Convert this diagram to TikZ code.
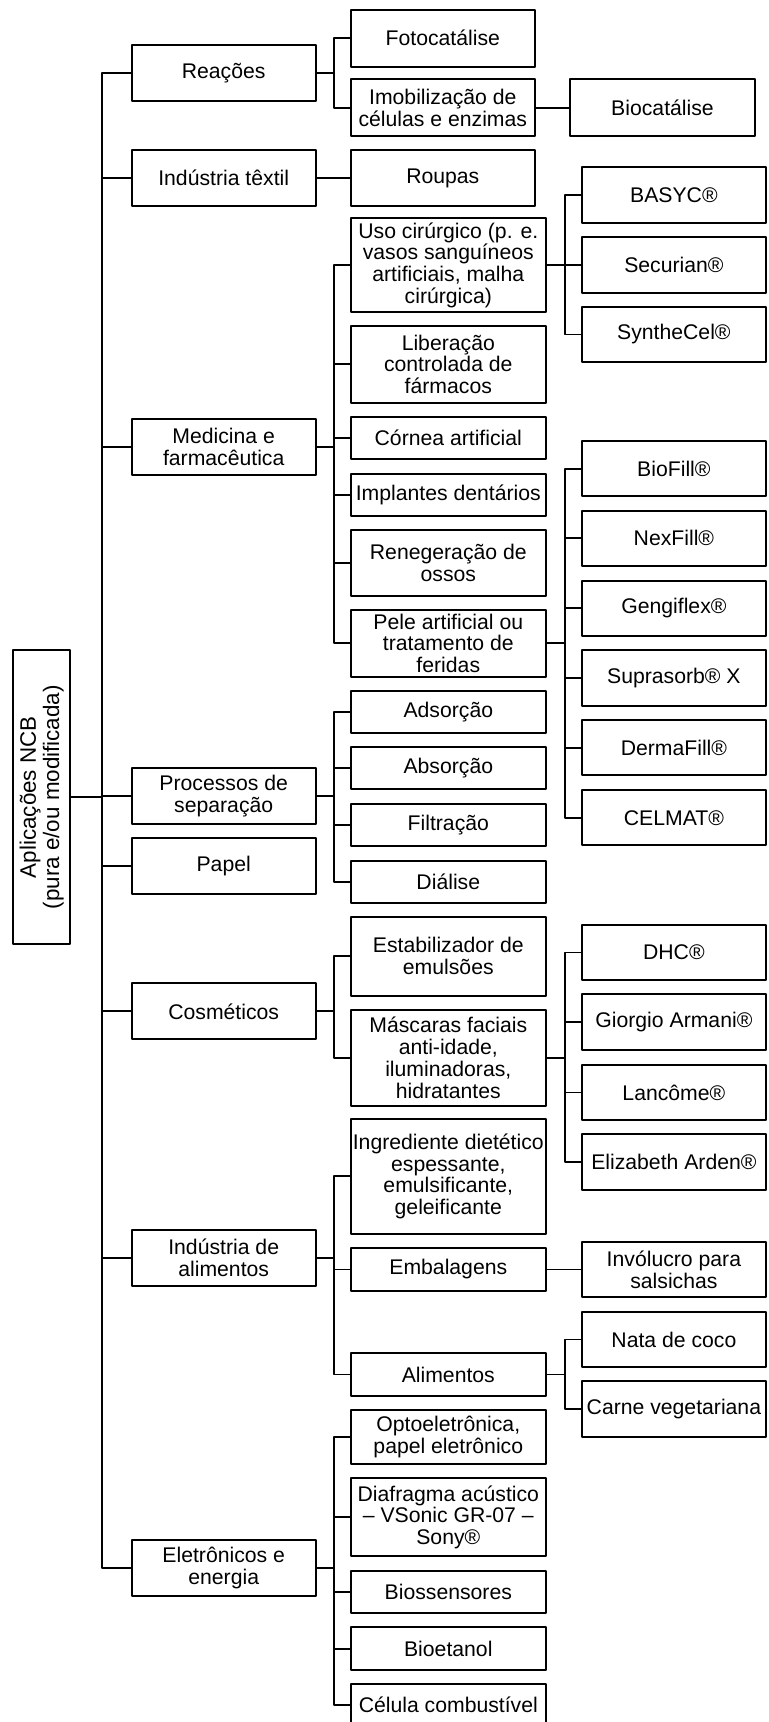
\documentclass[tikz,border=0pt]{standalone}
\usepackage{fontspec}
\setmainfont{Liberation Sans}
\usepackage{tikz}
\usetikzlibrary{positioning, calc}

\begin{document}
\begin{tikzpicture}[
    x=0.75pt, y=-0.75pt,
    line cap=round, line join=round,
    font=\fontsize{15.9pt}{16.3pt}\selectfont,
    boxroot/.style={draw, line width=1.5pt, rotate=90, minimum width=220.7pt, minimum height=43pt, inner sep=0pt, align=center, font=\fontsize{16.8pt}{17.5pt}\selectfont},
    boxone/.style={draw, line width=1.5pt, minimum width=138pt, minimum height=42pt, inner sep=0pt, align=center},
    boxtwo/.style={draw, line width=1.5pt, minimum width=146.5pt, minimum height=31.5pt, inner sep=0pt, align=center},
    boxnarrow/.style={boxtwo, minimum width=138.2pt, minimum height=42.5pt},
    boxthree/.style={draw, line width=1.5pt, minimum width=138.2pt, minimum height=41.6pt, inner sep=0pt, align=center},
    link/.style={line width=1.4pt}
  ]
    \useasboundingbox (0,0) rectangle (768,1722);

    % Raiz (rotacionada: .south fica do lado direito)
    \node[boxroot] (ncb) at (41.7, 797.2) {Aplicações NCB\\(pura e/ou modificada)};

    % Primeiro nivel
    \node[boxone] (reac) at (223.7, 72.9) {Reações};
    \node[boxone] (text) at (223.7, 178.2) {Indústria têxtil};
    \node[boxone] (medi) at (223.7, 446.8) {Medicina e\\farmacêutica};
    \node[boxone] (sepa) at (223.7, 796.2) {Processos de\\separação};
    \node[boxone] (pape) at (223.7, 866.3) {Papel};
    \node[boxone] (cosm) at (223.7, 1011.3) {Cosméticos};
    \node[boxone] (alim) at (223.7, 1257.7) {Indústria de\\alimentos};
    \node[boxone] (elet) at (223.7, 1567.7) {Eletrônicos e\\energia};

    % Segundo nivel
    \node[boxnarrow] (foto) at (442.8, 38.3) {Fotocatálise};
    \node[boxnarrow, minimum height=42.8pt] (imob) at (442.8, 107.8) {Imobilização de\\células e enzimas};
    \node[boxnarrow, minimum height=41.8pt] (roup) at (442.8, 178.2) {Roupas};

    \node[boxtwo, minimum height=70.5pt] (ciru) at (448.3, 265) {Uso cirúrgico (p. e.\\vasos sanguíneos\\artificiais, malha\\cirúrgica)};
    \node[boxtwo, minimum height=57.5pt] (libe) at (448.3, 364.3) {Liberação\\controlada de\\fármacos};
    \node[boxtwo, minimum height=32pt] (corn) at (448.3, 438) {Córnea artificial};
    \node[boxtwo] (impl) at (448.3, 495) {Implantes dentários};
    \node[boxtwo, minimum height=49.3pt] (osso) at (448.3, 562.8) {Renegeração de\\ossos};
    \node[boxtwo, minimum height=50pt] (pele) at (448.3, 643.3) {Pele artificial ou\\tratamento de\\feridas};

    \node[boxtwo] (adso) at (448.3, 711.7) {Adsorção};
    \node[boxtwo] (abso) at (448.3, 768.3) {Absorção};
    \node[boxtwo] (filt) at (448.3, 825) {Filtração};
    \node[boxtwo] (dial) at (448.3, 881.7) {Diálise};

    \node[boxtwo, minimum height=59.3pt] (esta) at (448.3, 956.2) {Estabilizador de\\emulsões};
    \node[boxtwo, minimum height=71.8pt] (masc) at (448.3, 1057.8) {Máscaras faciais\\anti-idade,\\iluminadoras,\\hidratantes};

    \node[boxtwo, minimum height=86.5pt] (ingr) at (448.3, 1176.3) {Ingrediente dietético\\espessante,\\emulsificante,\\geleificante};
    \node[boxtwo, minimum height=32.3pt] (emba) at (448.3, 1269.5) {Embalagens};
    \node[boxtwo, minimum height=31.8pt] (comi) at (448.3, 1374.5) {Alimentos};

    \node[boxtwo, minimum height=40.7pt] (opto) at (448.3, 1437.2) {Optoeletrônica,\\papel eletrônico};
    \node[boxtwo, minimum height=58.3pt] (diaf) at (448.3, 1517.2) {Diafragma acústico\\-- VSonic GR-07 --\\Sony®};
    \node[boxtwo] (bios) at (448.3, 1591.7) {Biossensores};
    \node[boxtwo, minimum height=32pt] (etan) at (448.3, 1648.7) {Bioetanol};
    \node[boxtwo] (celu) at (448.3, 1705) {Célula combustível};

    % Terceiro nivel
    \node[boxthree, minimum height=42.8pt] (bioc) at (662.5, 107.8) {Biocatálise};

    \node[boxthree] (basy) at (673.9, 195) {BASYC®};
    \node[boxthree] (secu) at (673.9, 265) {Securian®};
    \node[boxthree] (synt) at (673.9, 334.5) {SyntheCel®};

    \node[boxthree] (biof) at (673.9, 468.7) {BioFill®};
    \node[boxthree] (nexf) at (673.9, 538.3) {NexFill®};
    \node[boxthree] (geng) at (673.9, 608.3) {Gengiflex®};
    \node[boxthree] (supr) at (673.9, 678) {Suprasorb® X};
    \node[boxthree] (derm) at (673.9, 747.7) {DermaFill®};
    \node[boxthree] (celm) at (673.9, 817.7) {CELMAT®};

    \node[boxthree] (dhc) at (673.9, 952.5) {DHC®};
    \node[boxthree] (arma) at (673.9, 1022.2) {Giorgio Armani®};
    \node[boxthree] (lanc) at (673.9, 1092.5) {Lancôme®};
    \node[boxthree] (arde) at (673.9, 1162) {Elizabeth Arden®};

    \node[boxthree] (invo) at (673.9, 1269.5) {Invólucro para\\salsichas};
    \node[boxthree] (nata) at (673.9, 1339.5) {Nata de coco};
    \node[boxthree] (carn) at (673.9, 1409.2) {Carne vegetariana};

    % Ligacoes da raiz
    \draw[link] (ncb.south) -- ++(30.7,0) |- (reac.west)
                (ncb.south) -- ++(30.7,0) |- (text.west)
                (ncb.south) -- ++(30.7,0) |- (medi.west)
                (ncb.south) -- ++(30.7,0) |- (sepa.west)
                (ncb.south) -- ++(30.7,0) |- (pape.west)
                (ncb.south) -- ++(30.7,0) |- (cosm.west)
                (ncb.south) -- ++(30.7,0) |- (alim.west)
                (ncb.south) -- ++(30.7,0) |- (elet.west);

    % Ligacoes do primeiro para o segundo nivel
    \draw[link] (reac.east) -- ++(17,0) |- (foto.west)
                (reac.east) -- ++(17,0) |- (imob.west);
    \draw[link] (text.east) -- (roup.west);
    \draw[link] (medi.east) -- ++(17,0) |- (ciru.west)
                (medi.east) -- ++(17,0) |- (libe.west)
                (medi.east) -- ++(17,0) |- (corn.west)
                (medi.east) -- ++(17,0) |- (impl.west)
                (medi.east) -- ++(17,0) |- (osso.west)
                (medi.east) -- ++(17,0) |- (pele.west);
    \draw[link] (sepa.east) -- ++(17,0) |- (adso.west)
                (sepa.east) -- ++(17,0) |- (abso.west)
                (sepa.east) -- ++(17,0) |- (filt.west)
                (sepa.east) -- ++(17,0) |- (dial.west);
    \draw[link] (cosm.east) -- ++(17,0) |- (esta.west)
                (cosm.east) -- ++(17,0) |- (masc.west);
    \draw[link] (alim.east) -- ++(17,0) |- (ingr.west)
                (alim.east) -- ++(17,0) |- (emba.west)
                (alim.east) -- ++(17,0) |- (comi.west);
    \draw[link] (elet.east) -- ++(17,0) |- (opto.west)
                (elet.east) -- ++(17,0) |- (diaf.west)
                (elet.east) -- ++(17,0) |- (bios.west)
                (elet.east) -- ++(17,0) |- (etan.west)
                (elet.east) -- ++(17,0) |- (celu.west);

    % Ligacoes do segundo para o terceiro nivel
    \draw[link] (imob.east) -- (bioc.west);
    \draw[link] (ciru.east) -- ++(18,0) |- (basy.west)
                (ciru.east) -- ++(18,0) |- (secu.west)
                (ciru.east) -- ++(18,0) |- (synt.west);
    \draw[link] (pele.east) -- ++(18,0) |- (biof.west)
                (pele.east) -- ++(18,0) |- (nexf.west)
                (pele.east) -- ++(18,0) |- (geng.west)
                (pele.east) -- ++(18,0) |- (supr.west)
                (pele.east) -- ++(18,0) |- (derm.west)
                (pele.east) -- ++(18,0) |- (celm.west);
    \draw[link] (masc.east) -- ++(18,0) |- (dhc.west)
                (masc.east) -- ++(18,0) |- (arma.west)
                (masc.east) -- ++(18,0) |- (lanc.west)
                (masc.east) -- ++(18,0) |- (arde.west);
    \draw[link] (emba.east) -- (invo.west);
    \draw[link] (comi.east) -- ++(18,0) |- (nata.west)
                (comi.east) -- ++(18,0) |- (carn.west);

  \end{tikzpicture}
\end{document}
